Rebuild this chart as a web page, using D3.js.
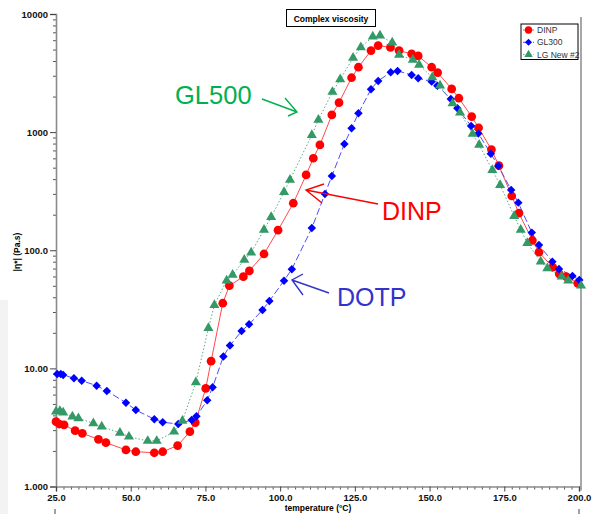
<!DOCTYPE html>
<html><head><meta charset="utf-8">
<script src="https://cdn.jsdelivr.net/npm/d3@7"></script>
<style>body{margin:0;background:#fff;} text{font-family:"Liberation Sans",Arial,sans-serif;}</style>
</head><body>
<script>
// ---- data ----
const xTickValues = [25, 50, 75, 100, 125, 150, 175, 200];
const xTickLabels = ["25.0","50.0","75.0","100.0","125.0","150.0","175.0","200.0"];
const yTickValues = [1, 10, 100, 1000, 10000];
const yTickLabels = ["1.000","10.00","100.0","1000","10000"];
const seriesNames = ["DINP", "GL300", "LG New #2"];

const dinpTemp = [25.0,26.1,27.7,31.4,33.8,39.2,41.7,48.4,51.7,57.9,60.7,65.7,69.8,71.6,75.1,76.9,80.8,83.0,87.7,89.7,94.6,99.3,104.4,108.7,111.1,113.3,117.3,119.7,123.9,126.2,130.4,132.8,136.9,139.8,144.0,146.2,150.7,152.7,157.4,159.8,164.1,166.4,170.7,173.2,177.5,179.9,184.4,186.6,191.2,193.4,195.7,199.6];
const dinpVisc = [3.54,3.38,3.32,2.97,2.82,2.51,2.35,2.04,1.97,1.93,1.97,2.22,2.91,3.47,6.76,11.5,35.6,50.1,59.8,66.8,93.0,148,250,434,601,779,1398,1777,2887,3543,4898,5400,5212,4898,4592,4416,3543,3190,2322,1936,1353,1089,711,520,288,206,121,96.2,71.8,63.0,59.8,52.5];

const gl300Temp = [25.4,26.6,27.4,31.0,33.6,38.6,42.0,48.4,51.7,57.9,60.7,65.9,70.4,72.0,75.6,77.4,81.0,83.2,87.1,89.6,94.1,96.4,101.3,103.9,110.6,115.0,117.3,121.5,123.9,126.2,130.4,132.8,137.0,139.3,144.0,146.2,150.7,152.6,157.1,159.3,163.9,166.3,170.5,173.0,177.3,179.7,184.2,186.6,191.1,193.3,197.8,200.1];
const gl300Visc = [8.97,8.95,8.80,8.25,7.87,7.14,6.44,5.12,4.44,3.71,3.50,3.38,3.66,3.93,5.37,6.92,12.6,15.6,20.7,23.6,31.2,37.2,55.3,69.0,154,300,426,794,1079,1445,2308,2713,3215,3298,3050,2858,2676,2475,1910,1593,1128,975,656,517,324,253,141,111,80.1,69.4,60.6,56.0];

const lgTemp = [25.0,26.3,27.4,30.5,32.5,37.5,40.3,46.4,49.4,55.7,58.7,64.5,67.3,71.8,76.0,78.0,82.1,84.1,88.0,90.3,94.6,97.0,101.3,103.3,110.6,112.8,117.5,120.1,124.4,127.0,131.0,133.4,137.5,139.8,144.4,146.5,150.9,153.5,157.7,160.2,164.4,166.6,171.0,173.6,178.3,180.5,182.7,187.2,189.4,194.2,196.4,200.7];
const lgVisc = [4.30,4.36,4.22,3.90,3.78,3.43,3.21,2.85,2.64,2.43,2.43,2.91,3.59,7.62,21.9,34.4,55.3,61.8,82.8,95.4,149,191,311,394,946,1269,2188,2793,4248,5232,6434,6561,5725,4504,4086,3707,2915,2475,1756,1462,965,779,478,357,195,149,115,80.1,70.4,59.8,55.3,50.1];

// ---- layout ----
const W = 592, H = 514;
const L = 56, R = 579, T = 14, B = 486.5;
const svg = d3.select("body").append("svg").attr("width", W).attr("height", H);

svg.append("rect").attr("x",0).attr("y",300).attr("width",8).attr("height",214).attr("fill","#f3f3f3");

const x = d3.scaleLinear().domain([25, 200]).range([L, R]);
const y = d3.scaleLog().domain([1, 10000]).range([B, T]);

const font = '"Liberation Sans",Arial,sans-serif';

// right frame line
svg.append("line").attr("x1",581).attr("x2",581).attr("y1",T+3).attr("y2",B+4)
  .attr("stroke","#8a8a8a").attr("stroke-width",1.5);

// minor y ticks
const yMinor = [];
for (let d = 1; d < 10000; d *= 10) for (let k = 2; k <= 9; k++) yMinor.push(d * k);
svg.append("g").attr("transform", `translate(${L},0)`)
  .call(d3.axisLeft(y).tickValues(yMinor).tickSize(3).tickFormat(""))
  .call(g => g.select(".domain").remove())
  .call(g => g.selectAll("line").attr("stroke","#555"));
// major y
svg.append("g").attr("transform", `translate(${L},0)`)
  .call(d3.axisLeft(y).tickValues(yTickValues).tickSize(6).tickPadding(2)
    .tickFormat((d,i) => yTickLabels[i]))
  .call(g => g.select(".domain").attr("stroke","#8a8a8a").attr("stroke-width",1.6))
  .call(g => g.selectAll("line").attr("stroke","#444"))
  .call(g => g.selectAll("text").attr("font-family",font).attr("font-size",9.5).attr("font-weight","bold").attr("fill","#111"));

// minor x ticks
const xMinor = d3.range(25, 200.01, 2.5).filter(v => (v - 25) % 25 !== 0);
svg.append("g").attr("transform", `translate(0,${B})`)
  .call(d3.axisBottom(x).tickValues(xMinor).tickSize(3).tickFormat(""))
  .call(g => g.select(".domain").remove())
  .call(g => g.selectAll("line").attr("stroke","#555"));
svg.append("g").attr("transform", `translate(0,${B})`)
  .call(d3.axisBottom(x).tickValues(xTickValues).tickSize(5).tickPadding(3)
    .tickFormat((d,i) => xTickLabels[i]))
  .call(g => g.select(".domain").attr("stroke","#8a8a8a").attr("stroke-width",1.6))
  .call(g => g.selectAll("line").attr("stroke","#444"))
  .call(g => g.selectAll("text").attr("font-family",font).attr("font-size",9.5).attr("font-weight","bold").attr("fill","#111"));

// axis titles
svg.append("text").attr("x", 318).attr("y", 511).attr("text-anchor","middle")
  .attr("font-family",font).attr("font-size",8.5).attr("font-weight","bold").text("temperature (°C)");
svg.append("text").attr("transform","translate(20,252) rotate(-90)").attr("text-anchor","middle")
  .attr("font-family",font).attr("font-size",8.5).attr("font-weight","bold").text("|η*| (Pa.s)");

// bottom stub marks
[55, 579].forEach(px => svg.append("line").attr("x1",px).attr("x2",px).attr("y1",509).attr("y2",514).attr("stroke","#444"));

// title box
svg.append("rect").attr("x",286.5).attr("y",9.5).attr("width",89).attr("height",17).attr("fill","#fff").attr("stroke","#000");
svg.append("text").attr("x",331).attr("y",21.5).attr("text-anchor","middle")
  .attr("font-family",font).attr("font-size",8.5).attr("font-weight","bold").text("Complex viscosity");

// diamond = square rotated 45deg
const diamondSym = { draw(ctx, size) { const r = Math.sqrt(size / 2); ctx.moveTo(0,-r); ctx.lineTo(r,0); ctx.lineTo(0,r); ctx.lineTo(-r,0); ctx.closePath(); } };

// series
const series = [
  {name: seriesNames[0], t: dinpTemp, v: dinpVisc, color:"#ff0000", line:"#ff4a4a", dash:null, sym:d3.symbolCircle, size:60, w:1},
  {name: seriesNames[1], t: gl300Temp, v: gl300Visc, color:"#0000ff", line:"#4d4dff", dash:"7,3", sym:diamondSym, size:36, w:1},
  {name: seriesNames[2], t: lgTemp, v: lgVisc, color:"#339966", line:"#5aab84", dash:"1.5,2", sym:d3.symbolTriangle, size:44, w:1}
];
const line = d3.line().x(d => x(d[0])).y(d => y(d[1]));
series.forEach(s => {
  const pts = s.t.map((t,i) => [t, s.v[i]]);
  svg.append("path").datum(pts).attr("d", line).attr("fill","none")
    .attr("stroke", s.line).attr("stroke-width", s.w).attr("stroke-dasharray", s.dash);
});
series.forEach(s => {
  const pts = s.t.map((t,i) => [t, s.v[i]]);
  svg.append("g").selectAll("path").data(pts).join("path")
    .attr("transform", d => `translate(${x(d[0])},${y(d[1])})`)
    .attr("d", d3.symbol().type(s.sym).size(s.size)).attr("fill", s.color);
});

// legend
const lg = svg.append("g");
lg.append("rect").attr("x",521).attr("y",24).attr("width",57).attr("height",35.5).attr("fill","#fff").attr("stroke","#000").attr("stroke-width",1);
series.forEach((s,i) => {
  const yy = 30 + i * 12.3;
  lg.append("line").attr("x1",523).attr("x2",534).attr("y1",yy).attr("y2",yy)
    .attr("stroke", s.line).attr("stroke-dasharray", s.dash);
  lg.append("path").attr("transform",`translate(528.5,${yy})`).attr("d", d3.symbol().type(s.sym).size(s.size*0.7)).attr("fill", s.color);
  lg.append("text").attr("x",537).attr("y",yy+3).attr("font-family",font).attr("font-size",8.5).attr("fill","#333").text(s.name);
});

// annotations
function arrow(x1,y1,x2,y2,a1,a2,color){
  svg.append("path").attr("d",`M${x1},${y1}L${x2},${y2}M${a1[0]},${a1[1]}L${x2},${y2}L${a2[0]},${a2[1]}`)
    .attr("fill","none").attr("stroke",color).attr("stroke-width",1.4);
}
svg.append("text").attr("x",175).attr("y",104).attr("font-family",font).attr("font-size",25.5).attr("fill","#00b050").text("GL500");
arrow(262,99,297,112,[285,98],[288,116],"#00b050");
svg.append("text").attr("x",382).attr("y",220).attr("font-family",font).attr("font-size",25).attr("fill","#ff0000").text("DINP");
arrow(378,204,306,190,[324,184],[322,203],"#ff0000");
svg.append("text").attr("x",337).attr("y",306).attr("font-family",font).attr("font-size",25).attr("fill","#3333cc").text("DOTP");
arrow(329,293,292,280,[303,274],[303,295],"#3333cc");
</script>
</body></html>
